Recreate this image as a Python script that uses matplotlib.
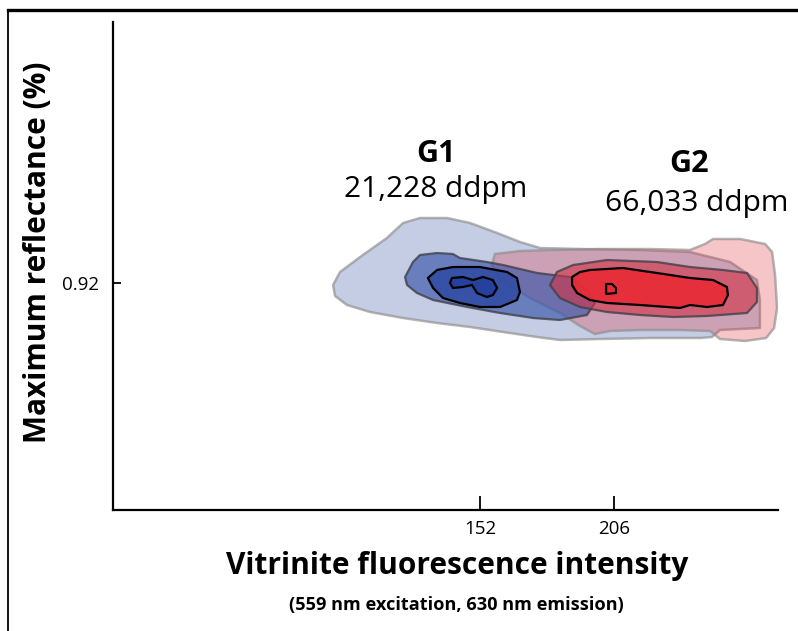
import matplotlib
matplotlib.use("Agg")
import matplotlib.pyplot as plt
from matplotlib.patches import Polygon
from matplotlib.lines import Line2D

plt.rcParams['font.family'] = ['Open Sans', 'DejaVu Sans']

# Axis ticks
x_ticks = [152, 206]
y_ticks = [0.92]

# Contour outlines (fluorescence intensity, reflectance %)
g1_outer_x = [92.8, 95.6, 104.8, 114.5, 121.0, 127.8, 138.7, 148.0, 158.9, 168.1, 176.2, 192.3, 216.5, 236.6,
              252.8, 263.6, 264.8, 264.8, 248.7, 245.5, 240.7, 220.5, 200.4, 184.2, 175.0, 161.3, 148.0, 134.7,
              121.0, 107.7, 98.4, 93.6]
g1_outer_y = [0.9196, 0.9222, 0.9256, 0.929, 0.932, 0.933, 0.933, 0.932, 0.930, 0.9282, 0.927, 0.9268, 0.9266,
              0.9262, 0.9242, 0.9206, 0.9166, 0.911, 0.9106, 0.9092, 0.909, 0.909, 0.9088, 0.9086, 0.9092, 0.9102,
              0.9112, 0.912, 0.913, 0.9142, 0.9156, 0.9174]

g1_mid_x = [121.8, 125.0, 127.8, 134.7, 141.1, 143.9, 154.8, 161.3, 175.0, 188.3, 195.1, 198.3, 195.1, 184.2,
            173.4, 160.1, 146.8, 133.1, 126.6, 122.6]
g1_mid_y = [0.9212, 0.9242, 0.9256, 0.926, 0.9258, 0.925, 0.9242, 0.9236, 0.922, 0.9212, 0.9186, 0.916, 0.9136,
            0.9126, 0.913, 0.914, 0.9152, 0.9166, 0.918, 0.9196]

g1_inner_x = [131.0, 134.7, 141.1, 152.0, 162.9, 166.9, 168.1, 166.9, 160.1, 152.0, 143.9, 137.1, 133.1]
g1_inner_y = [0.921, 0.9226, 0.9232, 0.9232, 0.9222, 0.921, 0.9182, 0.9166, 0.9152, 0.9152, 0.916, 0.917, 0.919]

g1_core_x = [139.9, 140.7, 145.1, 149.2, 153.2, 157.2, 158.9, 157.2, 154.8, 150.8, 148.8, 145.1, 141.1]
g1_core_y = [0.92, 0.921, 0.9212, 0.9206, 0.9212, 0.9206, 0.919, 0.9176, 0.9172, 0.918, 0.9196, 0.9192, 0.919]

g2_outer_x = [158.0, 168.1, 181.4, 200.4, 220.5, 236.6, 242.7, 245.9, 256.8, 266.9, 269.7, 270.9, 271.7, 270.5,
              267.3, 258.8, 248.7, 244.7, 232.6, 216.5, 204.4, 198.3, 192.3, 184.2, 172.2, 160.1, 156.8]
g2_outer_y = [0.9258, 0.9264, 0.9266, 0.9268, 0.9268, 0.9266, 0.9278, 0.9288, 0.9288, 0.9278, 0.9262, 0.9216,
              0.915, 0.911, 0.909, 0.9084, 0.9088, 0.9104, 0.9106, 0.9106, 0.9104, 0.9098, 0.9114, 0.914, 0.917,
              0.9206, 0.9236]

g2_mid_x = [180.2, 183.0, 189.5, 203.2, 223.3, 236.6, 249.9, 259.6, 263.6, 263.6, 259.6, 243.5, 229.8, 216.5,
            203.2, 192.3, 184.2]
g2_mid_y = [0.9196, 0.9222, 0.9236, 0.9246, 0.9242, 0.9232, 0.9226, 0.922, 0.919, 0.9162, 0.914, 0.9134, 0.9132,
            0.9136, 0.9142, 0.9152, 0.917]

g2_inner_x = [189.1, 192.3, 196.3, 209.6, 223.3, 236.6, 245.9, 251.5, 251.9, 249.9, 243.5, 236.6, 232.6, 227.4,
              216.5, 203.2, 196.3, 191.1, 189.1]
g2_inner_y = [0.9212, 0.9222, 0.9226, 0.923, 0.922, 0.921, 0.9206, 0.9192, 0.9176, 0.9156, 0.9152, 0.9156,
              0.915, 0.9152, 0.9156, 0.916, 0.9166, 0.918, 0.9196]

g2_core_x = [202.8, 205.2, 206.8, 206.8, 202.8]
g2_core_y = [0.9198, 0.9198, 0.919, 0.918, 0.9178]

blue = '#3a55a8'
red = '#e2303c'

W, H = 798, 631
fig = plt.figure(figsize=(W / 100, H / 100), dpi=100)
ax = fig.add_axes([112.7 / W, 1 - 510 / H, (777.8 - 112.7) / W, (510 - 22) / H])


def blob(xs, ys, face, alpha, edge, lw=1.6, z=1):
    p = Polygon(list(zip(xs, ys)), closed=True, facecolor=face, alpha=alpha,
                edgecolor='none', zorder=z)
    ax.add_patch(p)
    e = Polygon(list(zip(xs, ys)), closed=True, facecolor='none', edgecolor=edge,
                lw=lw, joinstyle='round', zorder=z + 0.5)
    ax.add_patch(e)


# drawing order follows the overlaps in the figure
blob(g1_outer_x, g1_outer_y, blue, 0.29, (0.55, 0.55, 0.55, 0.65), lw=1.8, z=1)
blob(g2_outer_x, g2_outer_y, red, 0.28, (0.55, 0.55, 0.55, 0.65), lw=1.8, z=2)
blob(g1_mid_x, g1_mid_y, blue, 0.66, (0.25, 0.25, 0.28, 0.8), z=3)
blob(g2_mid_x, g2_mid_y, '#cf3448', 0.62, (0.25, 0.25, 0.28, 0.8), z=4)
blob(g1_inner_x, g1_inner_y, '#2f4aa3', 0.85, 'black', z=5)
blob(g2_inner_x, g2_inner_y, '#e82b35', 0.9, 'black', z=6)
blob(g1_core_x, g1_core_y, '#24409c', 0.9, 'black', z=7)
blob(g2_core_x, g2_core_y, '#e82b35', 1.0, 'black', z=8)

ax.set_xlim(4, 272)
ax.set_ylim(0.8746, 0.9722)
ax.set_xticks(x_ticks)
ax.set_xticklabels([str(t) for t in x_ticks])
ax.set_yticks(y_ticks)
ax.set_yticklabels(['0.92'])
ax.tick_params(axis='x', direction='in', length=10, width=1.3, labelsize=13.5, pad=7)
ax.tick_params(axis='y', direction='in', length=6, width=1.3, labelsize=13.5, pad=10)
for s in ['top', 'right']:
    ax.spines[s].set_visible(False)
for s in ['left', 'bottom']:
    ax.spines[s].set_linewidth(1.6)

# group labels
ax.text(134.3, 0.9458, 'G1', ha='center', va='center', fontsize=22, fontweight='bold')
ax.text(134.3, 0.9388, '21,228 ddpm', ha='center', va='center', fontsize=21.5)
ax.text(236.2, 0.9437, 'G2', ha='center', va='center', fontsize=22, fontweight='bold')
ax.text(239.5, 0.936, '66,033 ddpm', ha='center', va='center', fontsize=21.5)

fig.text(457 / W, 1 - 566 / H, 'Vitrinite fluorescence intensity', ha='center', va='center',
         fontsize=21.5, fontweight='bold')
fig.text(456 / W, 1 - 605 / H, '(559 nm excitation, 630 nm emission)', ha='center', va='center',
         fontsize=13.1, fontweight='bold')
fig.text(38 / W, 1 - 252 / H, 'Maximum reflectance (%)', ha='center', va='center', rotation=90,
         fontsize=21.5, fontweight='bold')

# outer frame
fig.add_artist(Line2D([8 / W, 1], [1 - 9.5 / H, 1 - 9.5 / H], color='black', lw=2.4))
fig.add_artist(Line2D([8 / W, 8 / W], [0, 1 - 9.5 / H], color='black', lw=1.3))

fig.savefig('out.png', dpi=100)
